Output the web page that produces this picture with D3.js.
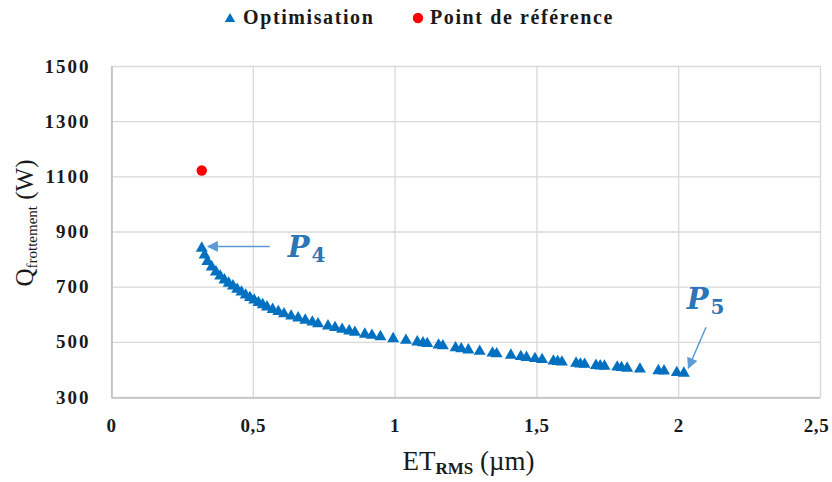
<!DOCTYPE html>
<html><head><meta charset="utf-8">
<script src="https://cdn.jsdelivr.net/npm/d3@7"></script>
<style>
html,body{margin:0;padding:0;background:#fff;}
svg{display:block;}
</style>
</head><body>
<svg id="chart" width="832" height="482"></svg>
<script>
// ---- data ----
const optimET = [0.32,0.33,0.34,0.355,0.37,0.385,0.40,0.415,0.43,0.445,0.46,0.475,0.49,0.505,0.52,0.535,0.55,0.57,0.59,0.61,0.635,0.66,0.685,0.71,0.73,0.765,0.79,0.815,0.84,0.86,0.895,0.92,0.95,0.995,1.04,1.08,1.10,1.115,1.155,1.17,1.215,1.235,1.26,1.30,1.345,1.36,1.41,1.445,1.465,1.495,1.52,1.56,1.575,1.59,1.64,1.655,1.67,1.71,1.725,1.74,1.785,1.80,1.82,1.865,1.93,1.95,1.995,2.02];
const optimQ  = [843,818,795,775,757,742,728,716,706,694,684,673,664,655,646,638,630,621,613,605,597,590,582,575,569,561,555,549,543,538,531,527,522,515,509,503,500,497,492,489,482,478,474,469,463,460,455,450,447,443,439,434,432,430,426,423,422,418,416,415,412,410,408,405,399,398,392,390];
const refET = [0.32];
const refQ  = [1121];
const xTicks = [0, 0.5, 1, 1.5, 2, 2.5];
const yTicks = [300, 500, 700, 900, 1100, 1300, 1500];
const seriesNames = ["Optimisation", "Point de référence"];
const annotations = [
  {label: "P", sub: "4", textX: 0.623, textQ: 808, fromX: 0.56, fromQ: 846, toX: 0.342, toQ: 846},
  {label: "P", sub: "5", textX: 2.03, textQ: 620, fromX: 2.098, fromQ: 553, toX: 2.036, toQ: 405}
];

// ---- drawing ----
const svg = d3.select("#chart");
const blue = "#0070C0", red = "#FF0000", annBlue = "#2E75B6", arrowBlue = "#5B9BD5";
const serifFont = "'Liberation Serif'";

const x = d3.scaleLinear().domain([0, 2.5]).range([111, 820]);
const y = d3.scaleLinear().domain([300, 1500]).range([397, 66]);
const loc = d3.formatLocale({decimal: ",", thousands: " ", grouping: [3], currency: ["", ""]});
const fmtX = loc.format("~g");

// gridlines
const g = svg.append("g");
g.selectAll(".hg").data(yTicks).join("line")
  .attr("x1", x(0)).attr("x2", x(2.5))
  .attr("y1", d => y(d) + 0.5).attr("y2", d => y(d) + 0.5)
  .attr("stroke", "#d9d9d9").attr("stroke-width", 1.3);
g.selectAll(".vg").data(xTicks).join("line")
  .attr("x1", d => x(d) + 0.5).attr("x2", d => x(d) + 0.5)
  .attr("y1", y(1500)).attr("y2", y(300))
  .attr("stroke", "#d9d9d9").attr("stroke-width", 1.3);

// axes (library axes, styled)
const xAxis = svg.append("g").attr("transform", `translate(0,${y(300) + 0.5})`)
  .call(d3.axisBottom(x).tickValues(xTicks).tickFormat(fmtX).tickSize(0).tickPadding(21));
const yAxis = svg.append("g").attr("transform", `translate(${x(0) + 0.5},0)`)
  .call(d3.axisLeft(y).tickValues(yTicks).tickFormat(d3.format("d")).tickSize(0).tickPadding(21));
[xAxis, yAxis].forEach(a => {
  a.select(".domain").attr("stroke", "#bfbfbf").attr("stroke-width", 1.6);
  a.selectAll("text").style("font-family", serifFont).attr("font-weight", "bold")
    .attr("font-size", 19).attr("fill", "#1a1a1a");
});
yAxis.selectAll("text").attr("letter-spacing", "2px");
xAxis.selectAll("text").attr("letter-spacing", "0.6px");
xAxis.selectAll(".tick").filter(d => d === 2.5).select("text").attr("dx", -4);

// axis titles
const xt = svg.append("text").attr("x", x(1.25) + 3).attr("y", 470)
  .attr("text-anchor", "middle").style("font-family", serifFont).attr("font-size", 27).attr("fill", "#1a1a1a");
xt.append("tspan").text("ET");
xt.append("tspan").attr("font-size", 17).attr("font-weight", "bold").attr("dy", 4).text("RMS");
xt.append("tspan").attr("dy", -4).text(" (µm)");

const yt = svg.append("text").attr("transform", `translate(33,223) rotate(-90)`)
  .attr("text-anchor", "middle").style("font-family", serifFont).attr("font-size", 25).attr("fill", "#1a1a1a");
yt.append("tspan").text("Q");
yt.append("tspan").attr("font-size", 15).attr("dy", 4).text("frottement");
yt.append("tspan").attr("dy", -4).text(" (W)");

// markers
const tri = d3.symbol().type(d3.symbolTriangle).size(62);
svg.append("g").selectAll("path").data(optimET.map((v, i) => [v, optimQ[i]])).join("path")
  .attr("d", tri)
  .attr("transform", d => `translate(${x(d[0])},${y(d[1]) + 1})`)
  .attr("fill", blue);
svg.append("g").selectAll("circle").data(refET.map((v, i) => [v, refQ[i]])).join("circle")
  .attr("cx", d => x(d[0])).attr("cy", d => y(d[1])).attr("r", 5.2).attr("fill", red);

// annotation arrows
const defs = svg.append("defs");
defs.append("marker").attr("id", "ah").attr("viewBox", "0 0 10 10")
  .attr("refX", 9).attr("refY", 5).attr("markerWidth", 13).attr("markerHeight", 11)
  .attr("markerUnits", "userSpaceOnUse").attr("orient", "auto")
  .append("path").attr("d", "M0,0 L10,5 L0,10 Z").attr("fill", arrowBlue);
const ann = svg.append("g");
annotations.forEach(a => {
  ann.append("line")
    .attr("x1", x(a.fromX)).attr("y1", y(a.fromQ))
    .attr("x2", x(a.toX)).attr("y2", y(a.toQ))
    .attr("stroke", arrowBlue).attr("stroke-width", 1.5).attr("marker-end", "url(#ah)");
  const t = ann.append("text").attr("x", x(a.textX)).attr("y", y(a.textQ))
    .attr("fill", annBlue).style("font-family", "'DejaVu Serif'").attr("font-weight", "bold");
  t.append("tspan").attr("font-style", "italic").attr("font-size", 29).text(a.label);
  t.append("tspan").attr("font-size", 20).attr("dx", 2).attr("dy", 5).text(a.sub);
});

// legend
const leg = svg.append("g").style("font-family", serifFont).attr("font-weight", "bold").attr("font-size", 20)
  .attr("letter-spacing", "1.6px").attr("fill", "#1a1a1a");
leg.append("path").attr("d", d3.symbol().type(d3.symbolTriangle).size(48)).attr("transform", "translate(230,19)").attr("fill", blue);
leg.append("text").attr("x", 243).attr("y", 24).text(seriesNames[0]);
leg.append("circle").attr("cx", 418).attr("cy", 18).attr("r", 5.2).attr("fill", red);
leg.append("text").attr("x", 430).attr("y", 24).text(seriesNames[1]);
</script>
</body></html>
